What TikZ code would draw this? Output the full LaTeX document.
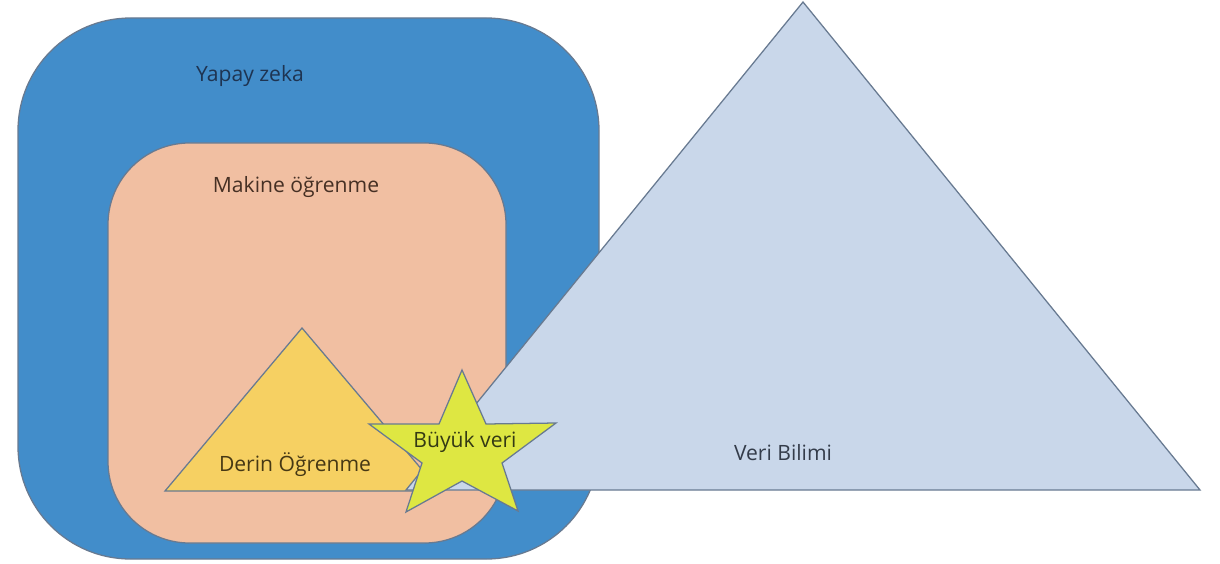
\documentclass[tikz,border=0pt]{standalone}
\usepackage{fontspec}
\setmainfont{Open Sans}
\usetikzlibrary{positioning}
\definecolor{aiblue}{RGB}{66,141,202}
\definecolor{mlsalmon}{RGB}{241,191,162}
\definecolor{dlyellow}{RGB}{246,208,98}
\definecolor{dsblue}{RGB}{201,215,234}
\definecolor{bdstar}{RGB}{222,231,66}
\definecolor{edgegrey}{RGB}{104,122,145}

\begin{document}
\begin{tikzpicture}[
    x=0.025cm, y=-0.025cm,
    region/.style={draw=edgegrey,line width=0.9pt},
    lbl/.style={font=\fontsize{15}{18}\selectfont,inner sep=0pt}
]
\useasboundingbox (0,0) rectangle (1220,564);

% Yapay zeka (outer box)
\draw[region,fill=aiblue,rounded corners=80] (18,18) rectangle (599,559);
% Makine ogrenme (inner box)
\draw[region,fill=mlsalmon,rounded corners=58] (108,143) rectangle (506,543);

% Derin ogrenme triangle
\coordinate (dlTop) at (302,328);
\coordinate (dlLeft) at (165,491);
\coordinate (dlRight) at (440,491);
\draw[region,fill=dlyellow] (dlTop) -- (dlRight) -- (dlLeft) -- cycle;

% Veri bilimi triangle
\coordinate (dsTop) at (803,2);
\coordinate (dsLeft) at (406,490);
\coordinate (dsRight) at (1200,490);
\draw[region,fill=dsblue] (dsTop) -- (dsRight) -- (dsLeft) -- cycle;

% Buyuk veri star
\draw[region,fill=bdstar] (462,370) -- (486,424) -- (556,423) -- (502,463)
    -- (518,511) -- (462,481) -- (406,512) -- (422,463) -- (369,424)
    -- (439,424) -- cycle;

% Labels
\node[lbl,text={rgb,255:red,30;green,52;blue,82}] (ai) at (250,76) {Yapay zeka};
\node[lbl,text={rgb,255:red,70;green,48;blue,36}] (ml) at (296,187) {Makine öğrenme};
\node[lbl,text={rgb,255:red,70;green,56;blue,20}] (dl) at (295,465) {Derin Öğrenme};
\node[lbl,text={rgb,255:red,52;green,58;blue,20}] (bd) at (465,442) {Büyük veri};
\node[lbl,text={rgb,255:red,52;green,60;blue,74}] (ds) at (783,453) {Veri Bilimi};
\end{tikzpicture}
\end{document}
